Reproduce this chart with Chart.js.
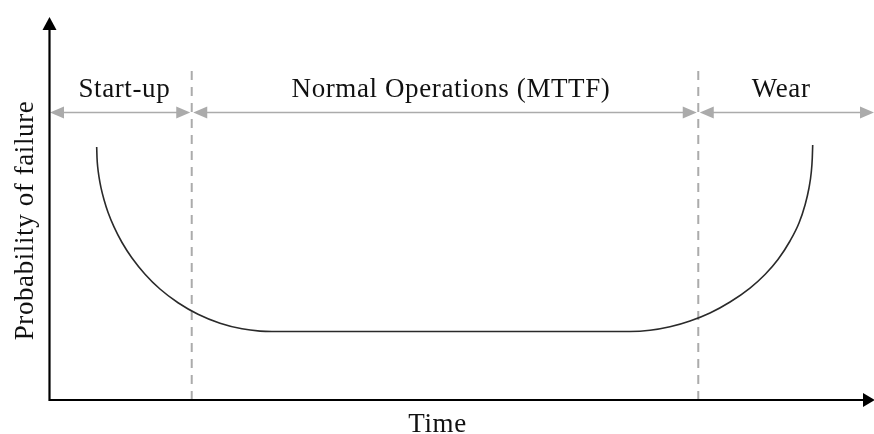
<!DOCTYPE html>
<html>
<head>
<meta charset="utf-8">
<script src="https://cdn.jsdelivr.net/npm/chart.js@4.4.1/dist/chart.umd.min.js"></script>
<style>
  html, body { margin: 0; padding: 0; background: #fff; }
  #wrap { width: 874px; height: 434px; }
</style>
</head>
<body>
<div id="wrap"><canvas id="bathtub" width="874" height="434"></canvas></div>
<script>
// ── bathtub curve (time 0-100, probability 0-100) ──
const timeVals = [5.78, 5.82, 5.90, 6.06, 6.30, 6.67, 7.15, 7.88, 8.85, 10.06, 11.64, 13.45, 15.64, 18.06, 20.73, 23.39, 25.58, 27.03,
                  48.6,
                  70.42, 72.85, 75.27, 77.70, 80.12, 82.55, 84.97, 86.79, 88.36, 89.82, 90.91, 91.64, 92.12, 92.40, 92.52, 92.57];
const failVals = [66.06, 63.24, 60.91, 58.28, 55.46, 52.30, 49.03, 45.20, 41.12, 37.08, 32.85, 28.98, 25.40, 22.40, 20.05, 18.59, 17.99, 17.89,
                  17.89,
                  17.89, 18.20, 19.11, 20.63, 22.72, 25.59, 29.24, 32.77, 36.68, 41.51, 46.21, 50.91, 55.35, 59.53, 63.19, 66.58];
const phaseBounds = [0, 17.3, 78.7, 100];
const phaseLabels = ['Start-up', 'Normal Operations (MTTF)', 'Wear'];
const dividerTop = 86.2;
const phaseArrowY = 75.3;
const xTitle = 'Time';
const yTitle = 'Probability of failure';

const FONT = '27px "Liberation Serif", "Times New Roman", serif';
const GREY = '#ababab';
const labelNudge = [4, 6, -5];

const curve = timeVals.map((t, i) => ({ x: t, y: failVals[i] }));
const dividers = phaseBounds.slice(1, -1).map(b => ({
  data: [{ x: b, y: 0 }, { x: b, y: dividerTop }],
  borderColor: GREY, borderWidth: 2, borderDash: [9, 7], pointRadius: 0, clip: false
}));

function tri(ctx, tipX, tipY, dir, len, half) {
  // dir: 'l','r','u'
  ctx.beginPath();
  if (dir === 'u') {
    ctx.moveTo(tipX, tipY); ctx.lineTo(tipX - half, tipY + len); ctx.lineTo(tipX + half, tipY + len);
  } else {
    const s = dir === 'r' ? -1 : 1;
    ctx.moveTo(tipX, tipY); ctx.lineTo(tipX + s * len, tipY - half); ctx.lineTo(tipX + s * len, tipY + half);
  }
  ctx.closePath();
  ctx.fill();
}

const decor = {
  id: 'decor',
  afterDatasetsDraw(chart) {
    const { ctx, chartArea: a, scales: { x, y } } = chart;
    ctx.save();

    // phase arrows + labels
    const ay = Math.round(y.getPixelForValue(phaseArrowY)) + 0.5;
    ctx.strokeStyle = GREY; ctx.fillStyle = GREY; ctx.lineWidth = 1.6;
    for (let i = 0; i < phaseLabels.length; i++) {
      const x0 = x.getPixelForValue(phaseBounds[i]) + (i === 0 ? 1 : 1.5);
      const x1 = x.getPixelForValue(phaseBounds[i + 1]) - (i === phaseLabels.length - 1 ? 0 : 1.5);
      ctx.beginPath(); ctx.moveTo(x0 + 8, ay); ctx.lineTo(x1 - 8, ay); ctx.stroke();
      tri(ctx, x0, ay, 'l', 14, 6);
      tri(ctx, x1, ay, 'r', 14, 6);
    }
    ctx.fillStyle = '#111';
    ctx.font = FONT;
    ctx.letterSpacing = '0.6px';
    ctx.textAlign = 'center'; ctx.textBaseline = 'alphabetic';
    phaseLabels.forEach((lab, i) => {
      const cx = (x.getPixelForValue(phaseBounds[i]) + x.getPixelForValue(phaseBounds[i + 1])) / 2;
      ctx.fillText(lab, cx + labelNudge[i], ay - 16);
    });

    // axes with arrow heads
    ctx.strokeStyle = '#000'; ctx.fillStyle = '#000'; ctx.lineWidth = 2.2;
    ctx.beginPath();
    ctx.moveTo(a.left + 0.5, a.top + 10); ctx.lineTo(a.left + 0.5, a.bottom);
    ctx.lineTo(a.right - 10, a.bottom);
    ctx.stroke();
    tri(ctx, a.left + 0.5, a.top, 'u', 13, 7);
    tri(ctx, a.right + 1, a.bottom, 'r', 12, 7);

    // axis titles
    ctx.fillStyle = '#111';
    ctx.fillText(xTitle, x.getPixelForValue(47.1), a.bottom + 32);
    ctx.translate(33, (a.top + a.bottom) / 2 + 12);
    ctx.rotate(-Math.PI / 2);
    ctx.fillText(yTitle, 0, 0);
    ctx.restore();
  }
};

new Chart(document.getElementById('bathtub').getContext('2d'), {
  type: 'line',
  data: {
    datasets: [
      { data: curve, borderColor: '#2a2a2a', borderWidth: 1.6, pointRadius: 0, cubicInterpolationMode: 'monotone', clip: false },
      ...dividers
    ]
  },
  options: {
    responsive: false, animation: false, devicePixelRatio: 1,
    layout: { padding: { left: 49, right: 0, top: 17, bottom: 34 } },
    plugins: { legend: { display: false }, tooltip: { enabled: false } },
    scales: {
      x: { type: 'linear', min: 0, max: 100, display: false },
      y: { min: 0, max: 100, display: false }
    }
  },
  plugins: [decor]
});
</script>
</body>
</html>
